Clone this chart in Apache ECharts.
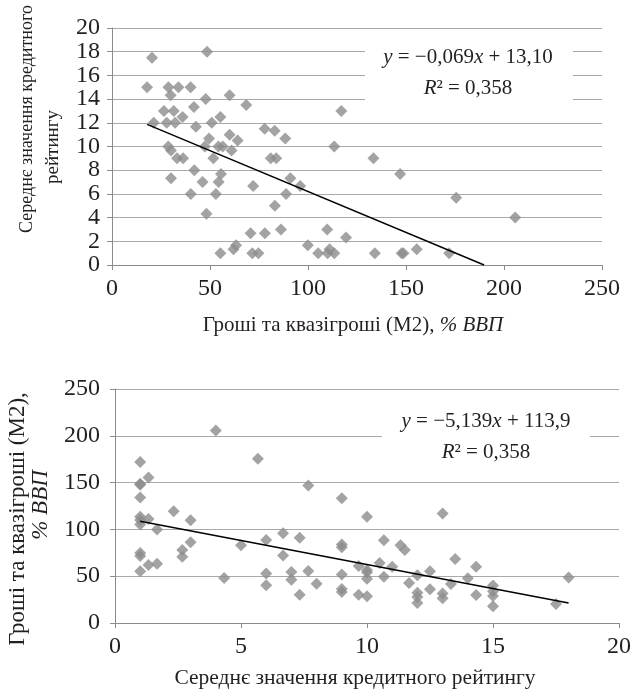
<!DOCTYPE html>
<html>
<head>
<meta charset="utf-8">
<script src="https://cdn.jsdelivr.net/npm/echarts@6/dist/echarts.min.js"></script>
<style>
  html, body { margin: 0; padding: 0; background: #fff; }
  #chart { width: 636px; height: 692px; }
</style>
</head>
<body>
<div id="chart"></div>
<script>
// гроші та квазігроші (M2), % ВВП
const m2 = [
  20.4, 48.5,
  17.9, 28.8, 33.9, 40.1,
  29.9, 47.8, 60, 68.5, 41.8,
  26.5, 31.5, 117,
  36, 55.3,
  21.3, 27.9, 32.2, 50.9,
  42.8, 77.9, 83, 60,
  49.5, 88.4, 64.1,
  28.7, 47.4, 54.3, 56.5, 113.4,
  30.1, 61,
  33.2, 36.3, 51.7, 81, 83.8, 133.4,
  42, 55.6, 147, 30.1, 91, 46.2, 54.4,
  72, 96, 40.2, 53, 88.8,
  175.6, 83.1, 48.2, 205.7,
  86.2, 109.8, 70.7, 78, 119.4,
  63.3, 99.9, 62, 111, 155.5,
  55.3, 71.6, 74.7, 105.2, 110, 113.4, 134.1, 147.8, 148.7, 172
]
// середнє значення кредитного рейтингу
const rating = [
  17.5, 18,
  15, 15, 15, 15,
  14.33, 14, 14.33, 13.5, 13.33,
  13, 13, 13,
  12.5, 12.5,
  12, 12, 12, 12,
  11.67, 11.5, 11.33, 11,
  10.67, 10.67, 10.5,
  10, 10, 10, 10, 10,
  9.67, 9.67,
  9, 9, 9, 9, 9, 9,
  8, 7.67, 7.67, 7.33, 7.33, 7, 7,
  6.67, 6.67, 6, 6, 6,
  5.67, 5, 4.33, 4,
  3, 3, 2.67, 2.67, 2.33,
  1.67, 1.67, 1.33, 1.33, 1.33,
  1, 1, 1, 1, 1, 1, 1, 1, 1, 1
]

// лінії тренду
const trendTop = { slope: -0.069, intercept: 13.10, eq: ['{i|y} = −0,069{i|x} + 13,10', '{i|R}² = 0,358'] }
const trendBottom = { slope: -5.139, intercept: 113.9, eq: ['{i|y} = −5,139{i|x} + 113,9', '{i|R}² = 0,358'] }

const topXTicks = [0, 250, 50]
const topYTicks = [0, 20, 2]
const botXTicks = [0, 20, 5]
const botYTicks = [0, 250, 50]

const font = '"Liberation Serif", "DejaVu Serif", serif'
const textColor = '#231f20'
const gridColor = '#a9a9a9'
const axisColor = '#8c8c8c'
const markColor = '#8c8c8c'

function trendLine(xs, t) {
  const x0 = Math.min(...xs)
  let x1 = Math.max(...xs)
  const zeroX = -t.intercept / t.slope
  if (x1 > zeroX) x1 = zeroX
  return [[x0, t.intercept + t.slope * x0], [x1, t.intercept + t.slope * x1]]
}

function xAxisOf(ticks, gridIndex) {
  return {
    gridIndex: gridIndex,
    type: 'value',
    min: ticks[0], max: ticks[1], interval: ticks[2],
    axisLine: { show: true, lineStyle: { color: axisColor, width: 1 } },
    axisTick: { show: true, length: 5, lineStyle: { color: axisColor } },
    axisLabel: {
      color: textColor, fontFamily: font, fontSize: 24, margin: 12,
      showMinLabel: true, showMaxLabel: true, hideOverlap: false
    },
    splitLine: { show: false }
  }
}

function yAxisOf(ticks, gridIndex, margin, fmt) {
  return {
    gridIndex: gridIndex,
    type: 'value',
    position: 'left',
    min: ticks[0], max: ticks[1], interval: ticks[2],
    axisLine: { show: true, lineStyle: { color: axisColor, width: 1 } },
    axisTick: { show: true, length: 5, lineStyle: { color: axisColor } },
    axisLabel: {
      color: textColor, fontFamily: font, fontSize: 24, margin: margin,
      formatter: fmt,
      showMinLabel: true, showMaxLabel: true, hideOverlap: false, interval: 0
    },
    splitLine: { show: true, lineStyle: { color: gridColor, width: 1 } }
  }
}

// the top y labels sit closer than their height, so every other one
// goes on a second, bare axis over the same grid to keep them all shown
const everyFourth = v => (v % 4 === 0 ? String(v) : '')
const inBetween = v => (v % 4 === 2 ? String(v) : '')
const topYLabelsAxis = Object.assign(yAxisOf(topYTicks, 0, 12, inBetween), {
  axisLine: { show: false },
  axisTick: { show: false },
  splitLine: { show: false }
})
topYLabelsAxis.axisLabel.showMinLabel = false
topYLabelsAxis.axisLabel.showMaxLabel = false

function label(text, x, y, size, rotate, italicRest) {
  return {
    type: 'text', x: x, y: y, rotation: rotate ? Math.PI / 2 : 0, z: 20,
    style: {
      text: text,
      fontFamily: font, fontSize: size, fill: textColor,
      fontStyle: italicRest ? 'italic' : 'normal',
      textAlign: 'center', textVerticalAlign: 'middle',
      align: 'center', verticalAlign: 'middle',
      rich: {
        i: { fontFamily: font, fontSize: size, fontStyle: 'italic', fill: textColor }
      }
    }
  }
}

function eqBox(t, cx, y1, y2, box) {
  return [
    { type: 'rect', z: 15, shape: box, style: { fill: '#fff' } },
    label(t.eq[0], cx, y1, 21),
    label(t.eq[1], cx, y2, 21)
  ]
}

const chart = echarts.init(document.getElementById('chart'), null, { renderer: 'canvas' })

const option = {
  backgroundColor: '#fff',
  animation: false,
  grid: [
    { left: 112, right: 34, top: 28, height: 237 },
    { left: 115, right: 17, top: 389, height: 234 }
  ],
  xAxis: [xAxisOf(topXTicks, 0), xAxisOf(botXTicks, 1)],
  yAxis: [
    yAxisOf(topYTicks, 0, 12, everyFourth),
    topYLabelsAxis,
    yAxisOf(botYTicks, 1, 15)
  ],
  series: [
    {
      type: 'scatter', xAxisIndex: 0, yAxisIndex: 0,
      symbol: 'diamond', symbolSize: 12,
      itemStyle: { color: markColor },
      data: m2.map((v, i) => [v, rating[i]])
    },
    {
      type: 'line', xAxisIndex: 0, yAxisIndex: 0,
      symbol: 'none', z: 5,
      lineStyle: { color: '#000', width: 1.4 },
      data: trendLine(m2, trendTop)
    },
    {
      type: 'scatter', xAxisIndex: 1, yAxisIndex: 2,
      symbol: 'diamond', symbolSize: 12,
      itemStyle: { color: markColor },
      data: rating.map((v, i) => [v, m2[i]])
    },
    {
      type: 'line', xAxisIndex: 1, yAxisIndex: 2,
      symbol: 'none', z: 5,
      lineStyle: { color: '#000', width: 1.4 },
      data: trendLine(rating, trendBottom)
    }
  ],
  graphic: [
    ...eqBox(trendTop, 468, 57, 88, { x: 365, y: 36, width: 208, height: 66 }),
    ...eqBox(trendBottom, 486, 421, 452, { x: 382, y: 402, width: 208, height: 66 }),
    label('Середнє значення кредитного', 27, 119, 18, true),
    label('рейтингу', 53, 147, 19, true),
    label('Гроші та квазігроші (M2), {i|% ВВП}', 353, 325, 21),
    label('Гроші та квазігроші (M2),', 18, 519, 23, true),
    label('% ВВП', 41, 505, 23, true, true),
    label('Середнє значення кредитного рейтингу', 355, 678, 21.5)
  ]
}

chart.setOption(option)
</script>
</body>
</html>
